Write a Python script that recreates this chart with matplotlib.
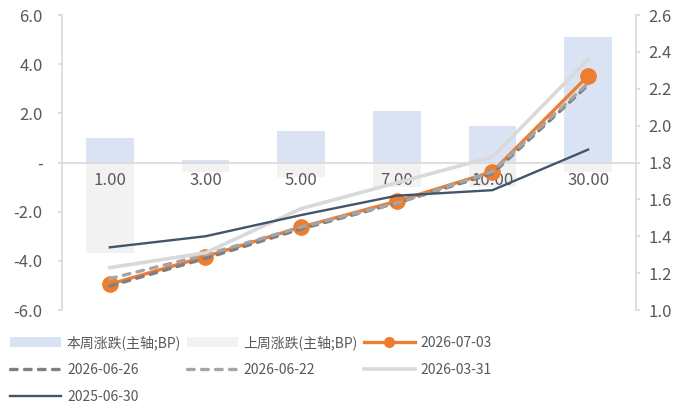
import matplotlib
matplotlib.use("Agg")
import matplotlib.pyplot as plt
from matplotlib.lines import Line2D
from matplotlib.patches import Patch
from matplotlib.ticker import FuncFormatter
import numpy as np

plt.rcParams['font.family'] = ['Noto Sans CJK SC', 'DejaVu Sans']

# ── Data ──
tenors = ['1.00', '3.00', '5.00', '7.00', '10.00', '30.00']

chg_this_week = [1.0, 0.1, 1.3, 2.1, 1.5, 5.1]      # BP, primary axis
chg_last_week = [-3.7, -0.4, -0.6, -1.0, -1.0, -0.4]

curve_20260703 = [1.14, 1.29, 1.45, 1.59, 1.75, 2.27]
curve_20260626 = [1.13, 1.28, 1.44, 1.58, 1.74, 2.22]
curve_20260622 = [1.17, 1.30, 1.45, 1.58, 1.75, 2.23]
curve_20260331 = [1.23, 1.31, 1.55, 1.69, 1.83, 2.36]
curve_20250630 = [1.34, 1.40, 1.515, 1.62, 1.65, 1.87]

TXT = '#595959'
GRID = '#d9d9d9'

fig = plt.figure(figsize=(6.91, 4.07), dpi=100)
ax = fig.add_axes([0.0897, 0.2383, 0.8306, 0.7248])

x = np.arange(len(tenors))

# ── Bars (primary axis) ──
ax.bar(x, chg_this_week, width=0.5, color='#dae3f3', zorder=1)
ax.bar(x, chg_last_week, width=0.5, color='#f2f2f2', zorder=1)

ax.set_xlim(-0.5, len(tenors) - 0.5)
ax.set_ylim(-6, 6)
ax.set_yticks([-6, -4, -2, 0, 2, 4, 6])
ax.yaxis.set_major_formatter(FuncFormatter(lambda v, p: '-' if abs(v) < 1e-9 else f'{v:.1f}'))

ax.spines['top'].set_visible(False)
ax.spines['right'].set_visible(False)
ax.spines['left'].set_color(GRID)
ax.spines['left'].set_linewidth(1.2)
ax.spines['bottom'].set_position(('data', 0))
ax.spines['bottom'].set_color(GRID)
ax.spines['bottom'].set_linewidth(1.2)

ax.set_xticks(x)
ax.set_xticklabels(tenors)
ax.tick_params(axis='x', length=0, pad=7, labelsize=12, labelcolor=TXT)
ax.tick_params(axis='y', length=3, width=1.2, color=GRID, pad=11, labelsize=12, labelcolor=TXT)

# ── Yield curves (secondary axis) ──
ax2 = ax.twinx()
ax2.set_ylim(1.0, 2.6)
ax2.set_yticks(np.arange(1.0, 2.61, 0.2))
ax2.yaxis.set_major_formatter(FuncFormatter(lambda v, p: f'{v:.1f}'))
for s in ['top', 'left', 'bottom']:
    ax2.spines[s].set_visible(False)
ax2.spines['right'].set_color(GRID)
ax2.spines['right'].set_linewidth(1.2)
ax2.tick_params(axis='y', length=3, width=1.2, color=GRID, pad=6, labelsize=12, labelcolor=TXT)

dash = (0, (2.0, 2.2))
ax2.plot(x, curve_20260703, color='#ed7d31', lw=2.4, marker='o', ms=11, zorder=3)
ax2.plot(x, curve_20260626, color='#7f7f7f', lw=2.4, ls=dash, dash_capstyle='round', zorder=4)
ax2.plot(x, curve_20260622, color='#a5a5a5', lw=2.4, ls=dash, dash_capstyle='round', zorder=5)
ax2.plot(x, curve_20260331, color='#d9d9d9', lw=2.6, zorder=6)
ax2.plot(x, curve_20250630, color='#44546a', lw=1.7, zorder=7)

# ── Legend (row-major order across three columns) ──
h_this = Patch(facecolor='#dae3f3', edgecolor='none')
h_last = Patch(facecolor='#f2f2f2', edgecolor='none')
h_0703 = Line2D([], [], color='#ed7d31', lw=2.4, marker='o', ms=7)
h_0626 = Line2D([], [], color='#7f7f7f', lw=2.4, ls=dash, dash_capstyle='round')
h_0622 = Line2D([], [], color='#a5a5a5', lw=2.4, ls=dash, dash_capstyle='round')
h_0331 = Line2D([], [], color='#d9d9d9', lw=2.6)
h_0630 = Line2D([], [], color='#44546a', lw=1.7)

handles = [h_this, h_0626, h_0630, h_last, h_0622, h_0703, h_0331]
labels = ['本周涨跌(主轴;BP)', '2026-06-26', '2025-06-30',
          '上周涨跌(主轴;BP)', '2026-06-22', '2026-07-03', '2026-03-31']
fig.legend(handles, labels, ncol=3, loc='upper left',
           bbox_to_anchor=(10 / 691, 1 - 335 / 407),
           frameon=False, fontsize=10, labelcolor=TXT,
           handlelength=3.7, handletextpad=0.4, columnspacing=0.4,
           labelspacing=0.93, borderpad=0, borderaxespad=0, numpoints=1)

fig.savefig('out.png', dpi=100, facecolor='white')
